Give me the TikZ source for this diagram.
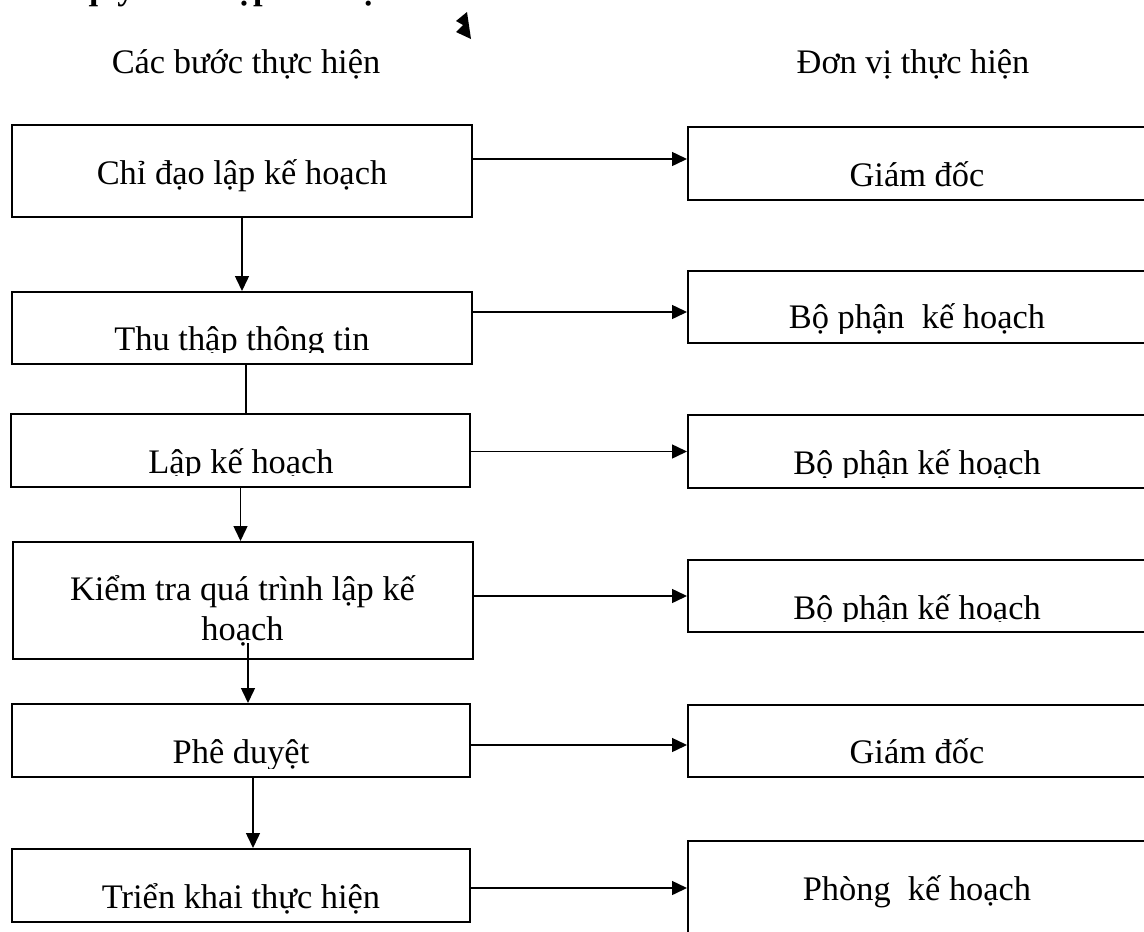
\documentclass[tikz,border=0pt]{standalone}
\usepackage{fontspec}
\setmainfont{Liberation Serif}
\usetikzlibrary{arrows.meta}
\tikzset{
  stepbox/.style={draw, line width=2pt, minimum width=460pt, minimum height=73pt, inner sep=0pt},
  unitbox/.style={draw, line width=2pt, minimum width=458pt, minimum height=73pt, inner sep=0pt},
  lbl/.style={anchor=base, inner sep=0pt},
  arr/.style={line width=1.5pt, -{Triangle[length=15pt,width=14pt]}},
  link/.style={line width=1.5pt}
}
\begin{document}
\begin{tikzpicture}[x=1pt, y=-1pt, every node/.style={font=\fontsize{34.4}{40}\selectfont}]
  \useasboundingbox (0,0) rectangle (1144,932);

  % heading, cut off at the top of the page
  \node[anchor=base west, inner sep=0pt, font=\fontsize{34.4}{40}\selectfont\bfseries] (title) at (79,-1) {quy trình lập kế hoạch};
  \fill (467,12) -- (471,39) -- (456,32) -- (463,25) -- (456,21) -- cycle;

  \node[lbl] (h1) at (246,73) {Các bước thực hiện};
  \node[lbl] (h2) at (913,73) {Đơn vị thực hiện};

  % steps
  \node[stepbox, minimum height=92pt] (l1) at (242,171) {};
  \node[stepbox, minimum height=72pt] (l2) at (242,328) {};
  \node[stepbox, minimum width=459pt] (l3) at (240.5,450.5) {};
  \node[stepbox, minimum height=117pt] (l4) at (242.5,600.5) {};
  \node[stepbox, minimum width=458pt] (l5) at (241,740.5) {};
  \node[stepbox, minimum width=458pt] (l6) at (241,885.5) {};

  % units
  \node[unitbox] (r1) at (917,163.5) {};
  \node[unitbox, minimum height=72pt] (r2) at (917,307) {};
  \node[unitbox] (r3) at (917,451.5) {};
  \node[unitbox, minimum height=72pt] (r4) at (917,596) {};
  \node[unitbox, minimum height=72pt] (r5) at (917,741) {};
  \node[unitbox, minimum height=94pt] (r6) at (917,888) {};

  \node[lbl] (t1) at (242,184) {Chỉ đạo lập kế hoạch};
  \begin{scope}
    \clip (l2.north west) rectangle (l2.east |- 0,352);
    \node[lbl] (t2) at (242,350) {Thu thập thông tin};
  \end{scope}
  \begin{scope}
    \clip (l3.north west) rectangle (l3.east |- 0,475);
    \node[lbl] (t3) at (241,473) {Lập kế hoạch};
  \end{scope}
  \node[lbl, align=center] (t4) at (242.5,640) {Kiểm tra quá trình lập kế\\hoạch};
  \begin{scope}
    \clip (l5.north west) rectangle (l5.east |- 0,768);
    \node[lbl] (t5) at (241,763) {Phê duyệt};
  \end{scope}
  \node[lbl] (t6) at (241,908) {Triển khai thực hiện};

  \node[lbl] (u1) at (917,186) {Giám đốc};
  \begin{scope}
    \clip (r2.north west) rectangle (r2.east |- 0,333);
    \node[lbl] (u2) at (917,328) {Bộ phận\ \ kế hoạch};
  \end{scope}
  \begin{scope}
    \clip (r3.north west) rectangle (r3.east |- 0,477);
    \node[lbl] (u3) at (917,474) {Bộ phận kế hoạch};
  \end{scope}
  \begin{scope}
    \clip (r4.north west) rectangle (r4.east |- 0,621);
    \node[lbl] (u4) at (917,619) {Bộ phận kế hoạch};
  \end{scope}
  \node[lbl] (u5) at (917,763) {Giám đốc};
  \node[lbl] (u6) at (917,900) {Phòng\ \ kế hoạch};

  % flow down
  \draw[arr] (l1) -- (l2);
  \draw[link] ([xshift=4pt]l2.south) -- ([xshift=4pt]l2.south |- l3.north);
  \draw[arr] (l3.south) -- (l3.south |- l4.north);
  \draw[arr] ([xshift=5.5pt,yshift=17pt]l4.south) -- ([xshift=5.5pt]l4.south |- l5.north);
  \draw[arr] ([xshift=12pt]l5.south) -- ([xshift=12pt]l5.south |- l6.north);

  % who does it
  \draw[arr] ([yshift=4.5pt]r1.west -| l1.east) -- ([yshift=4.5pt]r1.west);
  \draw[arr] ([yshift=-5pt]r2.west -| l2.east) -- ([yshift=-5pt]r2.west);
  \draw[arr] (r3.west -| l3.east) -- (r3.west);
  \draw[arr] (r4.west -| l4.east) -- (r4.west);
  \draw[arr] ([yshift=-4pt]r5.west -| l5.east) -- ([yshift=-4pt]r5.west);
  \draw[arr] (r6.west -| l6.east) -- (r6.west);
\end{tikzpicture}
\end{document}
